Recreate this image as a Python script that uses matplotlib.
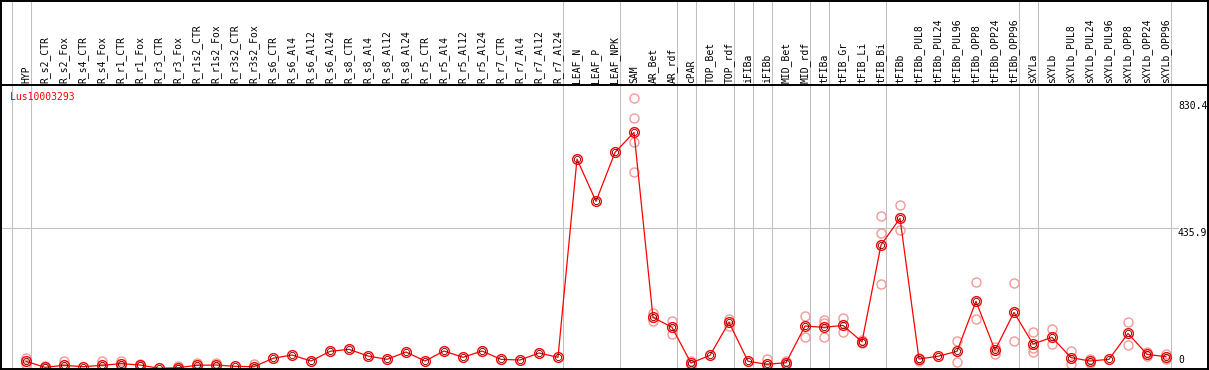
import matplotlib
matplotlib.use("Agg")
import matplotlib.pyplot as plt
from matplotlib.lines import Line2D
from matplotlib.transforms import blended_transform_factory

gene = "Lus10003293"

samples = [
    "HYP", "R_s2_CTR", "R_s2_Fox", "R_s4_CTR", "R_s4_Fox", "R_r1_CTR", "R_r1_Fox",
    "R_r3_CTR", "R_r3_Fox", "R_r1s2_CTR", "R_r1s2_Fox", "R_r3s2_CTR", "R_r3s2_Fox",
    "R_s6_CTR", "R_s6_Al4", "R_s6_Al12", "R_s6_Al24", "R_s8_CTR", "R_s8_Al4",
    "R_s8_Al12", "R_s8_Al24", "R_r5_CTR", "R_r5_Al4", "R_r5_Al12", "R_r5_Al24",
    "R_r7_CTR", "R_r7_Al4", "R_r7_Al12", "R_r7_Al24", "LEAF_N", "LEAF_P", "LEAF_NPK",
    "SAM", "AR_Bet", "AR_rdf", "cPAR", "TOP_Bet", "TOP_rdf", "iFIBa", "iFIBb",
    "MID_Bet", "MID_rdf", "tFIBa", "tFIB_Gr", "tFIB_Li", "tFIB_Bi", "tFIBb",
    "tFIBb_PUL8", "tFIBb_PUL24", "tFIBb_PUL96", "tFIBb_OPP8", "tFIBb_OPP24",
    "tFIBb_OPP96", "sXYLa", "sXYLb", "sXYLb_PUL8", "sXYLb_PUL24", "sXYLb_PUL96",
    "sXYLb_OPP8", "sXYLb_OPP24", "sXYLb_OPP96",
]

means = [
    22.4, 3.7, 9.9, 5.6, 9.9, 15.0, 10.9, 0.6, 2.5, 9.9, 10.9, 6.8, 5.6,
    31.7, 42.0, 23.3, 53.4, 59.6, 38.9, 28.5, 51.3, 23.3, 54.4, 34.8, 54.4,
    28.5, 26.4, 48.2, 34.8, 651.0, 519.8, 672.0,
    734.0, 159.0, 128.0, 17.0, 41.0, 143.6, 22.4, 13.0, 18.0, 132.0,
    128.0, 134.0, 83.0, 384.0, 467.0,
    29.5, 38.0, 53.4, 209.0, 56.5, 174.6,
    76.0, 97.0, 33.7, 23.3, 28.5, 109.0, 44.0, 36.7,
]

replicates = [
    [31.7, 14.0], [7.8, 0.5], [24.3, 2.0], [], [22.4, 0.5], [22.4, 7.6], [13.0, 8.8],
    [], [7.8, 0.0], [17.0, 3.0], [17.0, 4.8], [], [13.0, 0.0],
    [], [], [], [], [], [], [], [], [], [], [], [], [], [], [], [],
    [], [], [],
    [840.0, 778.0, 705.0, 610.0], [171.6, 147.7], [147.7, 108.0], [23.3, 10.9], [],
    [154.0, 131.0], [], [29.5, 0.0], [22.4, 13.0], [162.0, 98.0],
    [151.0, 142.0, 97.0], [157.0, 112.5], [78.0, 88.0], [474.0, 420.0, 262.0],
    [508.0, 429.7],
    [33.7, 23.3], [], [84.5, 20.0], [268.0, 153.0], [68.0, 46.0], [265.0, 84.5],
    [112.5, 62.7, 50.0], [122.8, 75.0], [54.4, 13.0], [29.5, 17.0], [],
    [143.6, 73.0], [50.0, 38.0], [44.0, 29.0],
]

# last sample of each group (a separator is drawn just after it)
group_ends = [-1, 0, 28, 31, 34, 35, 37, 38, 39, 41, 42, 45, 52, 53, 60]
y_labels = [830.4, 435.9, 0]

W, H = 1209, 370
fig = plt.figure(figsize=(W / 100, H / 100), dpi=100)
plt.rcParams['font.family'] = ['DejaVu Sans Mono']
fs = 7

top_px, bot_px, right_px = 85, 368.5, 1207.5
ax = fig.add_axes([0, 1 - bot_px / H, right_px / W, (bot_px - top_px) / H])
ax.set_xlim(-26 / 19, (right_px - 26) / 19)
ax.set_ylim(0, (bot_px - top_px) * 435.9 / (bot_px - 228.3))
ax.axis('off')

grey = '#c0c0c0'
ymax_fig = bot_px / (bot_px - top_px)
for k in group_ends:
    ax.axvline(k + 0.25, 0, ymax_fig, color=grey, lw=0.75, clip_on=False, zorder=1)
ax.axhline(435.9, 0, 1178 / right_px, color=grey, lw=0.75, zorder=1)

xs = list(range(len(samples)))
rx, ry = [], []
for i, reps in enumerate(replicates):
    for v in reps:
        rx.append(i)
        ry.append(v)
ax.plot(rx, ry, 'o', mfc='none', mec='#f09a9a', ms=6.5, mew=1.0, zorder=2)
ax.plot(xs, means, '-', color='red', lw=0.9, zorder=3)
ax.plot(xs, means, 'o', mfc='none', mec='red', ms=7, mew=1.0, zorder=4)
ax.plot(xs, means, 'o', mfc='none', mec='#600000', ms=4.5, mew=0.6, zorder=5)

# sample labels in the header
tr = blended_transform_factory(ax.transData, fig.transFigure)
for i, s in enumerate(samples):
    ax.text(i, 1 - 83 / H, s, transform=tr, rotation=90, ha='center', va='bottom',
            fontsize=fs, color='black')

# value labels on the right
for v in y_labels:
    if v == 0:
        ax.annotate('0', xy=(1178 / right_px, 0), xycoords=('axes fraction', 'data'),
                    xytext=(0, 2.5), textcoords='offset points', va='bottom', ha='left',
                    fontsize=fs, annotation_clip=False)
    else:
        ax.text(1178 / right_px, v, f"{v}", transform=ax.get_yaxis_transform(),
                va='top', ha='left', fontsize=fs)

fig.text(10 / W, 1 - 97 / H, gene, color='red', fontsize=fs, ha='left', va='center')

# frame and header separator
def fline(x0, y0, x1, y1):
    fig.add_artist(Line2D([x0 / W, x1 / W], [1 - y0 / H, 1 - y1 / H], color='black',
                          lw=1.4, transform=fig.transFigure))

fline(0.5, 0.5, right_px, 0.5)
fline(0.5, bot_px, right_px, bot_px)
fline(0.5, 0.5, 0.5, bot_px)
fline(right_px, 0.5, right_px, bot_px)
fline(0.5, top_px, right_px, top_px)

fig.savefig('out.png', dpi=100)
